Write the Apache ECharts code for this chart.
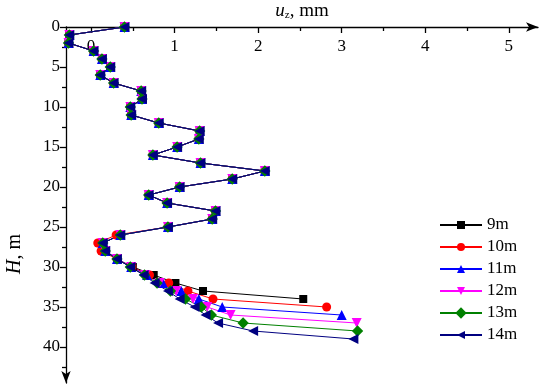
<!DOCTYPE html>
<html><head><meta charset="utf-8">
<script src="https://cdn.jsdelivr.net/npm/echarts@6/dist/echarts.min.js"></script>
<style>html,body{margin:0;padding:0;background:#fff}#c{width:550px;height:388px}</style>
</head><body><div id="c"></div>
<script>
var depth = [0,1,2,3,4,5,6,7,8,9,10,11,12,13,14,15,16,17,18,19,20,21,22,23,24,25,26,27,28,29,30,31,32,33,34,35,36,37,38,39];
var names = ['9m','10m','11m','12m','13m','14m'];
var u9m  = [0.40,-0.26,-0.27,0.03,0.13,0.23,0.11,0.27,0.60,0.61,0.47,0.48,0.81,1.30,1.29,1.03,0.74,1.31,2.08,1.69,1.06,0.69,0.91,1.49,1.45,0.92,0.35,0.14,0.17,0.31,0.50,0.75,1.01,1.34,2.54];
var u10m = [0.40,-0.26,-0.27,0.03,0.13,0.23,0.11,0.27,0.60,0.61,0.47,0.48,0.81,1.30,1.29,1.03,0.74,1.31,2.08,1.69,1.06,0.69,0.91,1.49,1.45,0.92,0.30,0.08,0.12,0.31,0.49,0.70,0.93,1.16,1.46,2.82];
var u11m = [0.40,-0.26,-0.27,0.03,0.13,0.23,0.11,0.27,0.60,0.61,0.47,0.48,0.81,1.30,1.29,1.03,0.74,1.31,2.08,1.69,1.06,0.69,0.91,1.49,1.45,0.92,0.35,0.14,0.17,0.31,0.48,0.67,0.86,1.08,1.29,1.57,3.00];
var u12m = [0.40,-0.26,-0.27,0.03,0.13,0.23,0.11,0.27,0.60,0.61,0.47,0.48,0.81,1.30,1.29,1.03,0.74,1.31,2.08,1.69,1.06,0.69,0.91,1.49,1.45,0.92,0.35,0.14,0.17,0.31,0.48,0.65,0.82,1.02,1.22,1.39,1.67,3.18];
var u13m = [0.40,-0.26,-0.27,0.03,0.13,0.23,0.11,0.27,0.60,0.61,0.47,0.48,0.81,1.30,1.29,1.03,0.74,1.31,2.08,1.69,1.06,0.69,0.91,1.49,1.45,0.92,0.35,0.14,0.17,0.31,0.47,0.64,0.79,0.95,1.13,1.32,1.44,1.82,3.19];
var u14m = [0.40,-0.26,-0.27,0.03,0.13,0.23,0.11,0.27,0.60,0.61,0.47,0.48,0.81,1.30,1.29,1.03,0.74,1.31,2.08,1.69,1.06,0.69,0.91,1.49,1.45,0.92,0.35,0.14,0.17,0.31,0.47,0.63,0.76,0.92,1.06,1.24,1.37,1.52,1.94,3.14];
var xTickLabels = [0,1,2,3,4,5];
var xMinorTicks = [0.5,1.5,2.5,3.5,4.5];
var yTickLabels = [0,5,10,15,20,25,30,35,40];
var yMinorTicks = [2.5,7.5,12.5,17.5,22.5,27.5,32.5,37.5,42.5];

var allU = [u9m,u10m,u11m,u12m,u13m,u14m];
var colors = ['#000000','#ff0000','#0000ff','#ff00ff','#008000','#000080'];
var symbols = ['rect','circle','triangle','triangle','rect','triangle'];
var rotates = [0,0,0,180,45,90];
var sizes = [8,9,10,10,8,10];
var FONT = 'Liberation Serif';

var series = allU.map(function(u,k){
  return {
    name: names[k], type:'line', xAxisIndex:0, yAxisIndex:0,
    data: u.map(function(v,i){return [v, depth[i]];}),
    symbol: symbols[k], symbolRotate: rotates[k], symbolSize: sizes[k],
    showAllSymbol:true, animation:false,
    lineStyle:{color:colors[k], width:1},
    itemStyle:{color:colors[k]}
  };
});

var chart = echarts.init(document.getElementById('c'));
chart.setOption({
  backgroundColor:'#fff',
  animation:false,
  grid:{left:66, top:27, right:12, bottom:5, containLabel:false, outerBoundsMode:'none'},
  xAxis:[{
    type:'value', position:'top', min:-0.3, max:5.35,
    axisLine:{show:true, onZero:false, symbol:['none','arrow'], symbolSize:[7,12], lineStyle:{color:'#000', width:1.3}},
    axisTick:{show:true, inside:true, length:6, customValues:xTickLabels, lineStyle:{color:'#000', width:1.3}},
    axisLabel:{show:true, inside:true, margin:11, customValues:xTickLabels, fontFamily:FONT, fontSize:17, color:'#000'},
    splitLine:{show:false},
    name:'{i|u}{s|z}{n|, mm}', nameLocation:'middle', nameGap:6,
    nameTextStyle:{fontFamily:FONT, color:'#000', rich:{
      i:{fontFamily:FONT, fontStyle:'italic', fontSize:19, color:'#000'},
      s:{fontFamily:FONT, fontSize:11, color:'#000', padding:[9,0,0,0]},
      n:{fontFamily:FONT, fontSize:19, color:'#000'}
    }}
  },{
    type:'value', position:'top', min:-0.3, max:5.35,
    axisLine:{show:false, onZero:false},
    axisTick:{show:true, inside:true, length:4, customValues:xMinorTicks, lineStyle:{color:'#000', width:1.3}},
    axisLabel:{show:false}, splitLine:{show:false}
  }],
  yAxis:[{
    type:'value', inverse:true, min:0, max:44.5, position:'left',
    axisLine:{show:true, onZero:false, symbol:['arrow','none'], symbolSize:[7,12], lineStyle:{color:'#000', width:1.3}},
    axisTick:{show:true, inside:false, length:6, customValues:yTickLabels, lineStyle:{color:'#000', width:1.3}},
    axisLabel:{show:true, margin:6, customValues:yTickLabels, fontFamily:FONT, fontSize:17, color:'#000'},
    splitLine:{show:false}
  },{
    type:'value', inverse:true, min:0, max:44.5, position:'left', offset:0,
    axisLine:{show:false, onZero:false},
    axisTick:{show:true, inside:false, length:4, customValues:yMinorTicks, lineStyle:{color:'#000', width:1.3}},
    axisLabel:{show:false}, splitLine:{show:false}
  }],
  legend:{
    orient:'vertical', left:434, top:211, itemWidth:42, itemHeight:10, itemGap:4,
    textStyle:{fontFamily:FONT, fontSize:17, color:'#000', lineHeight:18},
    data:names
  },
  graphic:[{
    type:'text', x:15, y:254, rotation:Math.PI/2,
    style:{text:'{i|H}{n|, m}', align:'center', verticalAlign:'middle',
      rich:{i:{fontFamily:FONT, fontStyle:'italic', fontSize:20, fill:'#000'}, n:{fontFamily:FONT, fontSize:20, fill:'#000'}}}
  }],
  series: series
});
</script></body></html>
